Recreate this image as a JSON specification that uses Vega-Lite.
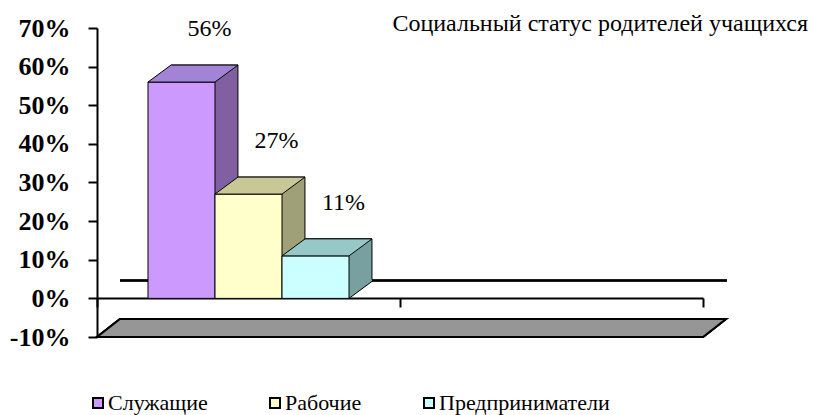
{
  "$schema": "https://vega.github.io/schema/vega-lite/v6.json",
  "autosize": {"type": "none"},
  "padding": {"left": 97, "top": 28, "right": 111, "bottom": 78},
  "width": 606,
  "height": 309,
  "background": "white",
  "title": {
    "text": "Социальный статус родителей учащихся",
    "anchor": "end",
    "frame": "group",
    "dx": 105,
    "offset": -40,
    "baseline": "alphabetic",
    "font": "Liberation Serif",
    "fontSize": 24,
    "fontWeight": "normal",
    "color": "black"
  },
  "config": {
    "view": {"stroke": null},
    "axis": {"grid": false, "domainColor": "black", "tickColor": "black", "labelColor": "black"}
  },
  "data": {
    "values": [
      {"cat": "g1", "series": "Служащие", "value": 0.56},
      {"cat": "g1", "series": "Рабочие", "value": 0.27},
      {"cat": "g1", "series": "Предприниматели", "value": 0.11}
    ]
  },
  "encoding": {
    "x": {
      "field": "cat", "type": "nominal",
      "scale": {"domain": ["g1", "g2"], "paddingInner": 0, "paddingOuter": 0},
      "axis": {"title": null, "labels": false, "tickBand": "extent", "tickSize": 9, "tickWidth": 2, "domainWidth": 2, "offset": -39}
    },
    "y": {
      "field": "value", "type": "quantitative",
      "scale": {"domain": [-0.1, 0.7], "nice": false, "zero": false},
      "axis": {
        "title": null,
        "values": [-0.1, 0, 0.1, 0.2, 0.3, 0.4, 0.5, 0.6, 0.7],
        "labelExpr": "round(datum.value * 100) + '%'",
        "labelFont": "Liberation Serif", "labelFontSize": 26, "labelFontWeight": "bold",
        "labelPadding": 18, "tickSize": 9, "tickWidth": 2, "domainWidth": 2
      }
    }
  },
  "resolve": {"scale": {"xOffset": "independent", "color": "independent"}},
  "layer": [
    {
      "mark": {"type": "point", "shape": "M-151.5,0 L454.5,0 L477.5,-18 L-128.5,-18 Z", "filled": true, "fill": "#969696", "stroke": "black", "strokeWidth": 2, "opacity": 1},
      "encoding": {
        "x": {"datum": "g1", "type": "nominal"},
        "y": {"datum": -0.1, "type": "quantitative"},
        "size": {"value": 4}
      }
    },
    {
      "mark": {"type": "point", "shape": "M-128.5,-18 L478.5,-18", "filled": false, "stroke": "black", "strokeWidth": 2, "opacity": 1},
      "encoding": {
        "x": {"datum": "g1", "type": "nominal"},
        "y": {"datum": 0, "type": "quantitative"},
        "size": {"value": 4}
      }
    },
    {
      "mark": {"type": "bar", "yOffset": -17, "y2Offset": -17, "stroke": "black", "strokeWidth": 1},
      "encoding": {
        "xOffset": {"field": "series", "type": "nominal", "sort": null, "scale": {"type": "band", "domain": ["Служащие", "Рабочие", "Предприниматели"], "paddingInner": 0, "paddingOuter": 0.761, "align": 0.725}},
        "color": {"field": "series", "type": "nominal", "scale": {"domain": ["Служащие", "Рабочие", "Предприниматели"], "range": ["#8060a0", "#a0a078", "#78a0a0"]}, "legend": null}
      }
    },
    {
      "mark": {"type": "point", "shape": "M33.5,0 L56.5,-17 L56.5,-19 L33.5,-19 Z", "filled": true, "strokeWidth": 0, "opacity": 1},
      "encoding": {
        "y": {"datum": 0, "type": "quantitative"},
        "xOffset": {"field": "series", "type": "nominal", "sort": null, "scale": {"type": "band", "domain": ["Служащие", "Рабочие", "Предприниматели"], "paddingInner": 0, "paddingOuter": 0.761}},
        "size": {"value": 4},
        "color": {"field": "series", "type": "nominal", "scale": {"domain": ["Служащие", "Рабочие", "Предприниматели"], "range": ["#8060a0", "#a0a078", "#78a0a0"]}, "legend": null}
      }
    },
    {
      "mark": {"type": "point", "shape": "M33.5,0 L56.5,-17", "filled": false, "stroke": "black", "strokeWidth": 1, "opacity": 1},
      "encoding": {
        "y": {"datum": 0, "type": "quantitative"},
        "xOffset": {"field": "series", "type": "nominal", "sort": null, "scale": {"type": "band", "domain": ["Служащие", "Рабочие", "Предприниматели"], "paddingInner": 0, "paddingOuter": 0.761}},
        "size": {"value": 4}
      }
    },
    {
      "mark": {"type": "bar", "stroke": "black", "strokeWidth": 1},
      "encoding": {
        "xOffset": {"field": "series", "type": "nominal", "sort": null, "scale": {"type": "band", "domain": ["Служащие", "Рабочие", "Предприниматели"], "paddingInner": 0, "paddingOuter": 0.761}},
        "color": {
          "field": "series", "type": "nominal",
          "scale": {"domain": ["Служащие", "Рабочие", "Предприниматели"], "range": ["#cc99ff", "#ffffcc", "#ccffff"]},
          "legend": {
            "title": null, "orient": "none", "direction": "horizontal", "legendX": -10, "legendY": 364, "padding": 0,
            "symbolType": "square", "symbolSize": 100, "symbolStrokeColor": "black", "symbolStrokeWidth": 2, "symbolOpacity": 1,
            "labelFont": "Liberation Serif", "labelFontSize": 22, "labelColor": "black", "labelOffset": -1, "labelLimit": 0, "columnPadding": 56
          }
        }
      }
    },
    {
      "mark": {"type": "point", "shape": "M-33.5,0 L33.5,0 L56.5,-17 L-10.5,-17 Z", "filled": true, "stroke": "black", "strokeWidth": 1, "opacity": 1},
      "encoding": {
        "xOffset": {"field": "series", "type": "nominal", "sort": null, "scale": {"type": "band", "domain": ["Служащие", "Рабочие", "Предприниматели"], "paddingInner": 0, "paddingOuter": 0.761}},
        "size": {"value": 4},
        "color": {"field": "series", "type": "nominal", "scale": {"domain": ["Служащие", "Рабочие", "Предприниматели"], "range": ["#a383d6", "#c8c896", "#96c8c8"]}, "legend": null}
      }
    },
    {
      "mark": {"type": "text", "dx": 28, "dy": -53, "font": "Liberation Serif", "fontSize": 24, "color": "black"},
      "encoding": {
        "xOffset": {"field": "series", "type": "nominal", "sort": null, "scale": {"type": "band", "domain": ["Служащие", "Рабочие", "Предприниматели"], "paddingInner": 0, "paddingOuter": 0.761}},
        "text": {"field": "value", "type": "quantitative", "format": ".0%"}
      }
    }
  ]
}
